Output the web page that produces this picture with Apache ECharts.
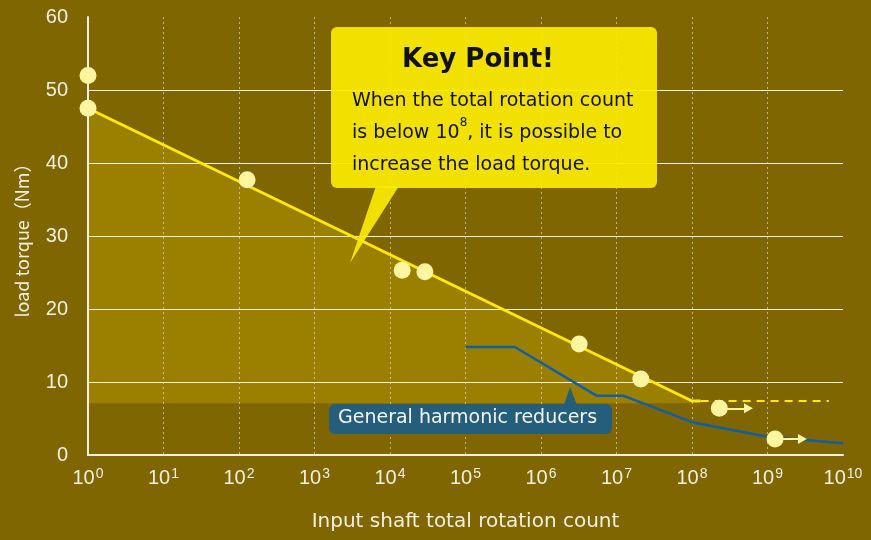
<!DOCTYPE html>
<html>
<head>
<meta charset="utf-8">
<script src="https://cdn.jsdelivr.net/npm/echarts@6/dist/echarts.min.js"></script>
<style>
  html, body { margin: 0; padding: 0; background: #806600; }
  #chart { width: 871px; height: 540px; }
</style>
</head>
<body>
<div id="chart"></div>
<script>
// yellow rated line (solid part) and its dashed continuation
const yellowX = [1, 1e8, 1.3e8]
const yellowY = [47.5, 7.4, 7.4]
const dashX = [1.3e8, 6.5e9]
const dashY = [7.4, 7.4]
const fillBase = 7.1

// general harmonic reducers
const blueX = [1e5, 4.5e5, 5.5e6, 1.25e7, 1e8, 1e9, 1e10]
const blueY = [14.8, 14.8, 8.1, 8.1, 4.5, 2.5, 1.6]

// test points
const pointsX = [1, 1, 128, 1.45e4, 2.9e4, 3.2e6, 2.1e7, 2.3e8, 1.26e9]
const pointsY = [52, 47.5, 37.7, 25.3, 25.1, 15.2, 10.4, 6.4, 2.2]

// arrows (still running) from points
const arrowFromX = [2.3e8, 1.26e9]
const arrowToX = [5.6e8, 2.9e9]
const arrowY = [6.4, 2.2]

const yTicks = [0, 10, 20, 30, 40, 50, 60]

const font = 'Liberation Sans'
const wide = 'DejaVu Sans'
const txt = '#f3efdf'

const zip = (xs, ys) => xs.map((x, i) => [x, ys[i]])

let chart = echarts.init(document.getElementById('chart'))

let options = {
    backgroundColor: '#806600',
    animation: false,
    grid: { left: 88, right: 28, top: 17, bottom: 85 },
    xAxis: {
        type: 'log',
        logBase: 10,
        min: 1,
        max: 1e10,
        interval: 1,
        splitNumber: 10,
        z: 2,
        name: 'Input shaft total rotation count',
        nameLocation: 'middle',
        nameGap: 57,
        nameTextStyle: { color: txt, fontSize: 20, fontFamily: wide },
        axisLine: { lineStyle: { color: '#f3efdf', width: 2 } },
        axisTick: { show: false },
        axisLabel: {
            color: txt,
            fontSize: 20,
            fontFamily: font,
            margin: 12,
            formatter: v => '{b|10}{s|' + Math.round(Math.log10(v)) + '}',
            rich: {
                b: { fontSize: 20, color: txt, fontFamily: font },
                s: { fontSize: 14, color: txt, fontFamily: font, verticalAlign: 'top', padding: [0, 0, 8, 1] }
            }
        },
        splitLine: {
            show: true,
            showMinLine: false,
            showMaxLine: false,
            lineStyle: { color: 'rgba(225,218,190,0.7)', type: [2, 3], width: 1 }
        }
    },
    yAxis: {
        type: 'value',
        min: 0,
        max: 60,
        interval: 10,
        z: 2,
        name: 'load torque（Nm）',
        nameLocation: 'middle',
        nameGap: 57,
        nameTextStyle: { color: txt, fontSize: 18, fontFamily: 'Noto Sans CJK JP' },
        axisLine: { show: true, lineStyle: { color: '#f3efdf', width: 2 } },
        axisTick: { show: false },
        axisLabel: {
            color: txt, fontSize: 20, fontFamily: font, margin: 20,
            formatter: v => yTicks.includes(v) ? String(v) : ''
        },
        splitLine: {
            show: true,
            showMinLine: false,
            showMaxLine: false,
            lineStyle: { color: '#f3efdf', width: 1 }
        }
    },
    series: [
        {
            // shaded area between the rated line and the base level
            type: 'line',
            data: zip(yellowX.slice(0, 2), yellowY.slice(0, 2)),
            symbol: 'none',
            lineStyle: { width: 0 },
            areaStyle: { color: '#9b8000', opacity: 1, origin: fillBase },
            z: 1
        },
        {
            type: 'line',
            data: zip(blueX, blueY),
            symbol: 'none',
            lineStyle: { color: '#0f5ea8', width: 2.5 },
            z: 3
        },
        {
            type: 'line',
            data: zip(yellowX, yellowY),
            symbol: 'none',
            lineStyle: { color: '#ffe900', width: 3 },
            z: 4
        },
        {
            type: 'line',
            data: zip(dashX, dashY),
            symbol: 'none',
            lineStyle: { color: '#ffe900', width: 2, type: [8, 6] },
            z: 4
        },
        {
            type: 'scatter',
            data: zip(pointsX, pointsY),
            symbolSize: 17,
            itemStyle: { color: '#fff5a0', opacity: 1 },
            clip: false,
            z: 6,
            markLine: {
                silent: true,
                symbol: ['none', 'triangle'],
                symbolSize: [10, 9],
                label: { show: false },
                lineStyle: { color: '#fff5a0', width: 2, type: 'solid', opacity: 1 },
                data: arrowFromX.map((x, i) => [
                    { coord: [x, arrowY[i]] },
                    { coord: [arrowToX[i], arrowY[i]] }
                ])
            }
        }
    ],
    graphic: [
        {
            type: 'polygon',
            z: 10,
            shape: { points: [[376, 186], [399, 186], [350, 263]] },
            style: { fill: 'rgba(251,235,0,0.93)' }
        },
        {
            type: 'rect',
            z: 10,
            shape: { x: 331, y: 27, width: 326, height: 161, r: 6 },
            style: { fill: 'rgba(251,235,0,0.93)' }
        },
        {
            type: 'text',
            z: 11,
            left: 402, top: 47,
            style: { text: 'Key Point!', font: 'bold 26px ' + wide, fill: '#111' }
        },
        {
            type: 'text',
            z: 11,
            left: 352, top: 85,
            style: {
                text: 'When the total rotation count\nis below 10{s|8}, it is possible to\nincrease the load torque.',
                font: '19px ' + wide,
                fill: '#111',
                lineHeight: 32,
                rich: {
                    s: { fontSize: 12, fill: '#111', verticalAlign: 'top', padding: [0, 0, 10, 0], fontFamily: wide }
                }
            }
        },
        {
            type: 'polygon',
            z: 10,
            shape: { points: [[564, 405], [577, 405], [570, 387]] },
            style: { fill: '#255e7a' }
        },
        {
            type: 'rect',
            z: 10,
            shape: { x: 329, y: 404, width: 283, height: 30, r: 6 },
            style: { fill: '#255e7a' }
        },
        {
            type: 'text',
            z: 11,
            left: 338, top: 409,
            style: { text: 'General harmonic reducers', font: '19px ' + wide, fill: '#f4f4f4' }
        }
    ]
}

chart.setOption(options)
</script>
</body>
</html>
